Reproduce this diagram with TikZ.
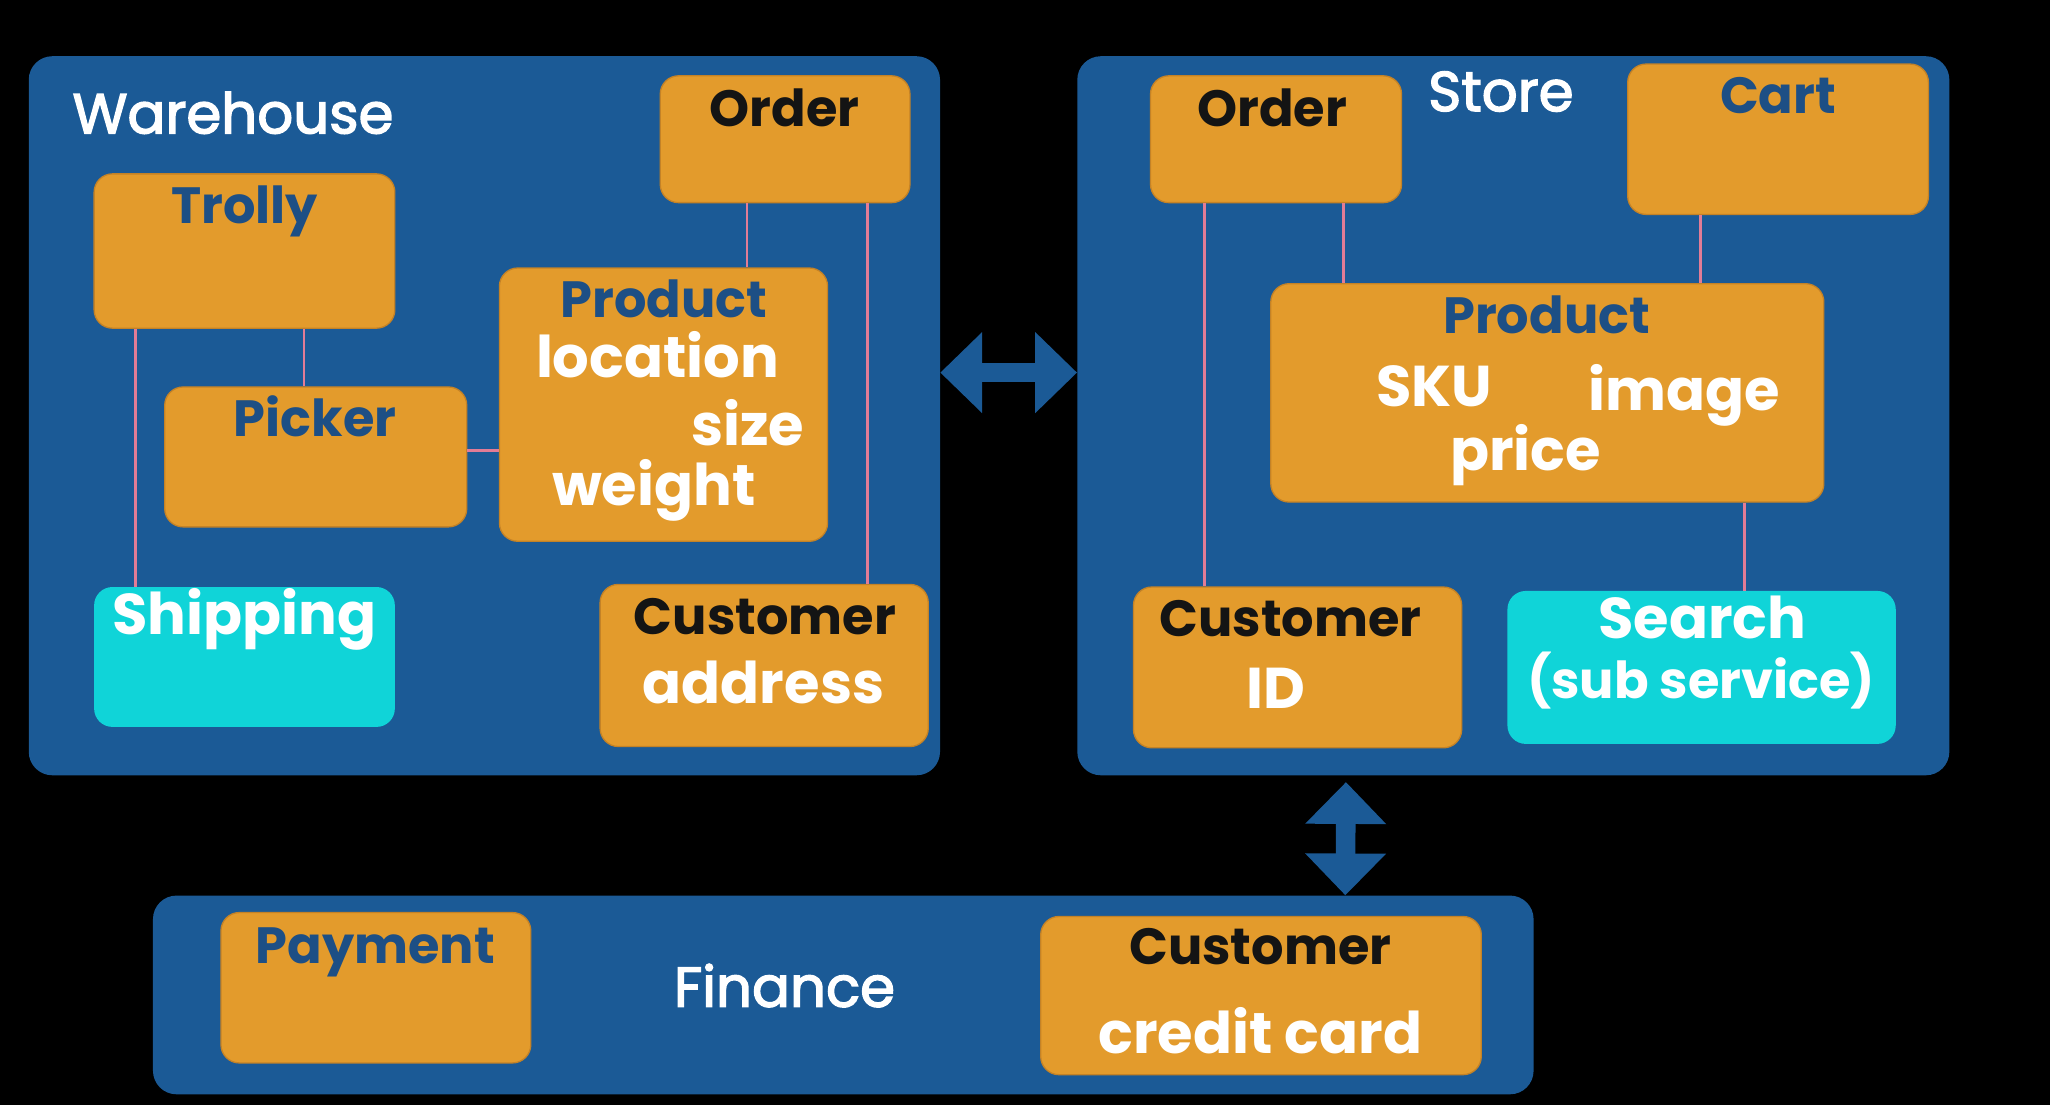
\documentclass[tikz,border=0pt]{standalone}
\usepackage{fontspec}
\setmainfont{Poppins}
\newfontfamily\ctxfont[FakeBold=2.5]{Poppins}
\usetikzlibrary{arrows.meta}
\definecolor{ctxblue}{RGB}{27,90,150}
\definecolor{svcorange}{RGB}{227,155,44}
\definecolor{svcedge}{RGB}{196,130,38}
\definecolor{subcyan}{RGB}{16,212,216}
\definecolor{ttlblue}{RGB}{29,79,133}
\definecolor{linkpink}{RGB}{226,124,150}
\begin{document}
\begin{tikzpicture}[x=1pt,y=-1pt,
ctx/.style={fill=ctxblue,rounded corners=18pt,inner sep=0pt},
svc/.style={fill=svcorange,draw=svcedge,line width=1pt,rounded corners=14pt,inner sep=0pt},
sub/.style={fill=subcyan,rounded corners=14pt,inner sep=0pt},
link/.style={draw=linkpink,line width=2pt},
bigarrow/.style={draw=ctxblue,line width=15pt,{Triangle[width=60pt,length=32pt]}-{Triangle[width=60pt,length=32pt]}},
ctxtext/.style={anchor=base,text=white,font=\ctxfont\fontsize{43}{50}\selectfont},
ttl/.style={anchor=base,text=ttlblue,font=\bfseries\fontsize{39}{46}\selectfont},
ttlk/.style={anchor=base,text=black!92,font=\bfseries\fontsize{39}{46}\selectfont},
attr/.style={anchor=base,text=white,font=\bfseries\fontsize{44}{50}\selectfont}]
\fill[black] (0,0) rectangle (1568,845);
\node[ctx,minimum width=697pt,minimum height=550pt] (warehouse) at (370.5,318) {};
\node[ctx,minimum width=667pt,minimum height=550pt] (store) at (1157.5,318) {};
\node[ctx,minimum width=1056pt,minimum height=152pt] (finance) at (645,761) {};
\node[svc,minimum width=191pt,minimum height=97pt] (orderW) at (600.5,106.5) {};
\node[svc,minimum width=230pt,minimum height=118pt] (trolly) at (187,192) {};
\node[svc,minimum width=231pt,minimum height=107pt] (picker) at (241.5,349.5) {};
\node[svc,minimum width=251pt,minimum height=209pt] (prodW) at (507.5,309.5) {};
\node[sub,minimum width=230pt,minimum height=107pt] (shipping) at (187,502.5) {};
\node[svc,minimum width=251pt,minimum height=124pt] (custW) at (584.5,509) {};
\node[svc,minimum width=192pt,minimum height=97pt] (orderS) at (976,106.5) {};
\node[svc,minimum width=230pt,minimum height=115pt] (cart) at (1360,106.5) {};
\node[svc,minimum width=423pt,minimum height=167pt] (prodS) at (1183.5,300.5) {};
\node[svc,minimum width=251pt,minimum height=123pt] (custS) at (992.5,510.5) {};
\node[sub,minimum width=297pt,minimum height=117pt] (search) at (1301.5,510.5) {};
\node[svc,minimum width=237pt,minimum height=115pt] (payment) at (287.5,755.5) {};
\node[svc,minimum width=337pt,minimum height=121pt] (custF) at (964.5,761.5) {};
\draw[link] ([xshift=32pt]trolly.south west) -- ([xshift=32pt]trolly.south west |- shipping.north);
\draw[link] ([xshift=161pt]trolly.south west) -- ([xshift=161pt]trolly.south west |- picker.north);
\draw[link] ([yshift=5pt]picker.east) -- ([yshift=5pt]picker.east -| prodW.west);
\draw[link] ([xshift=67pt]orderW.south west) -- ([xshift=67pt]orderW.south west |- prodW.north);
\draw[link] ([xshift=159pt]orderW.south west) -- ([xshift=159pt]orderW.south west |- custW.north);
\draw[link] ([xshift=42pt]orderS.south west) -- ([xshift=42pt]orderS.south west |- custS.north);
\draw[link] ([xshift=148pt]orderS.south west) -- ([xshift=148pt]orderS.south west |- prodS.north);
\draw[link] ([xshift=56pt]cart.south west) -- ([xshift=56pt]cart.south west |- prodS.north);
\draw[link] ([xshift=363pt]prodS.south west) -- ([xshift=363pt]prodS.south west |- search.north);
\draw[bigarrow] ([yshift=33pt]warehouse.east) -- ([yshift=33pt]store.west);
\draw[bigarrow] ([xshift=-128pt,yshift=-5pt]store.south) -- ([xshift=384pt]finance.north);
\node[ctxtext,anchor=base west] (warehouseT) at (52,102) {Warehouse};
\node[ctxtext] (storeT) at (1148,85) {Store};
\node[ctxtext] (financeT) at (600,770) {Finance};
\node[ttlk] (orderWT) at (600,97) {Order};
\node[ttl] (trollyT) at (187,171) {Trolly};
\node[ttl] (pickerT) at (241,334) {Picker};
\node[ttl] (prodWT) at (508,243) {Product};
\node[attr] (locationT) at (503,289) {location};
\node[attr] (sizeT) at (572,341) {size};
\node[attr] (weightT) at (500,387) {weight};
\node[attr] (shippingT) at (187,485) {Shipping};
\node[ttlk] (custWT) at (585,485) {Customer};
\node[attr] (addressT) at (584,538) {address};
\node[ttlk] (orderST) at (973,97) {Order};
\node[ttl] (cartT) at (1360,87) {Cart};
\node[ttl] (prodST) at (1183,255) {Product};
\node[attr] (skuT) at (1097,311) {SKU};
\node[attr] (imageT) at (1288,314) {image};
\node[attr] (priceT) at (1167,360) {price};
\node[ttlk] (custST) at (987,487) {Customer};
\node[attr] (idT) at (976,542) {ID};
\node[attr] (searchT) at (1302,488) {Search};
\node[attr,font=\bfseries\fontsize{39}{46}\selectfont] (subsvcT) at (1301,534) {(sub service)};
\node[ttl] (paymentT) at (287,737) {Payment};
\node[ttlk] (custFT) at (964,738) {Customer};
\node[attr] (creditT) at (964,806) {credit card};
\end{tikzpicture}
\end{document}
